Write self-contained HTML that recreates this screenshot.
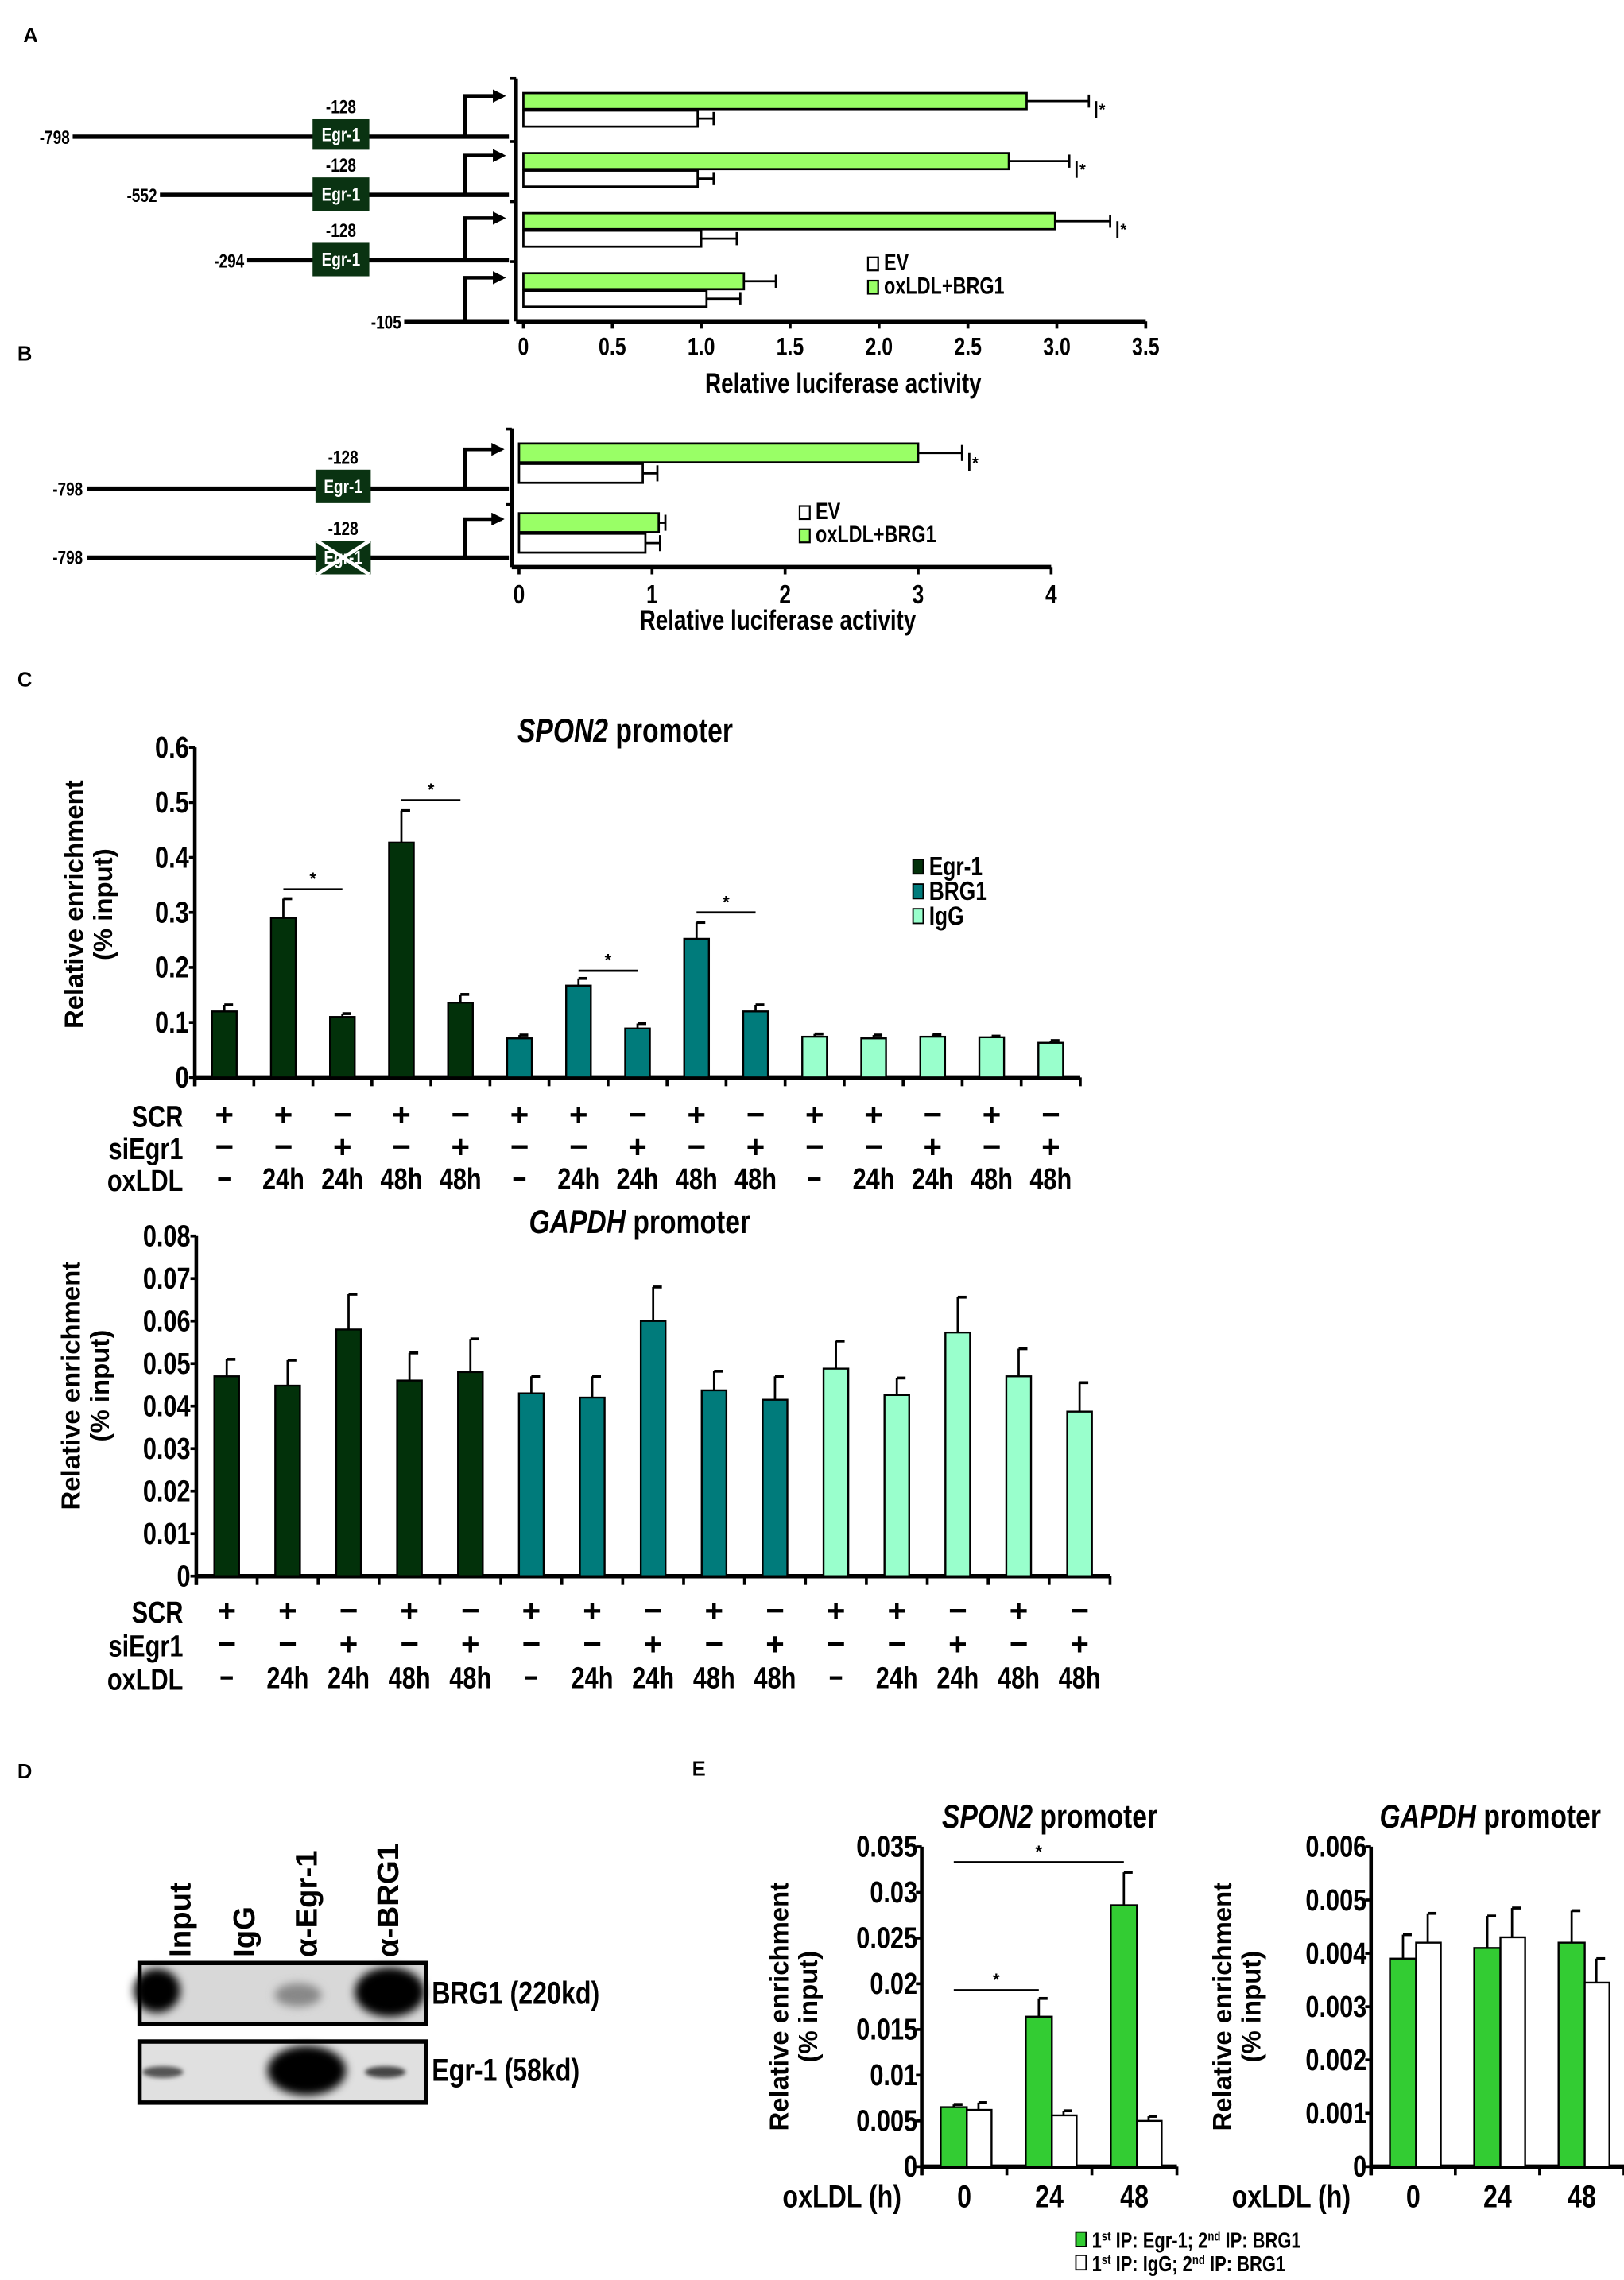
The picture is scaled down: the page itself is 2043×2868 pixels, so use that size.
<!DOCTYPE html>
<html><head><meta charset="utf-8">
<style>
html,body{margin:0;padding:0;background:#fff;}
svg{display:block;}
.n{font-family:"Liberation Sans Narrow","Liberation Sans",sans-serif;font-weight:bold;fill:#000;}
.w{font-family:"Liberation Sans",sans-serif;font-weight:bold;fill:#000;}
</style></head>
<body>
<svg id="fig" xmlns="http://www.w3.org/2000/svg" width="2043" height="2868" viewBox="0 0 1117 1568" preserveAspectRatio="none">
<defs>
<marker id="ah" markerUnits="userSpaceOnUse" markerWidth="9" markerHeight="9" refX="7" refY="4.5" orient="auto"><path d="M0,0 L9,4.5 L0,9 z" fill="#000"/></marker>
<filter id="bl" x="-50%" y="-50%" width="200%" height="200%"><feGaussianBlur stdDeviation="3"/></filter>
<filter id="bl2" x="-50%" y="-50%" width="200%" height="200%"><feGaussianBlur stdDeviation="1.5"/></filter>
</defs>
<g class="w" font-size="14">
<text x="16" y="29">A</text>
<text x="12" y="248">B</text>
<text x="12" y="472">C</text>
<text x="12" y="1223">D</text>
<text x="476" y="1221">E</text>
</g>

<!-- Panel A diagrams -->
<g stroke="#000" fill="none">
<line x1="50" y1="94" x2="350" y2="94" stroke-width="3"/>
<line x1="110" y1="134" x2="350" y2="134" stroke-width="3"/>
<line x1="170" y1="179" x2="350" y2="179" stroke-width="3"/>
<line x1="278" y1="221" x2="350" y2="221" stroke-width="3"/>
<path d="M320,94 V66 H346" stroke-width="2.5" marker-end="url(#ah)"/>
<path d="M320,134 V107 H346" stroke-width="2.5" marker-end="url(#ah)"/>
<path d="M320,179 V150 H346" stroke-width="2.5" marker-end="url(#ah)"/>
<path d="M320,221 V191 H346" stroke-width="2.5" marker-end="url(#ah)"/>
</g>
<g class="n" font-size="13">
<rect x="215" y="82" width="39" height="21" fill="#0a3312"/><text x="234.5" y="97" text-anchor="middle" style="fill:#fff">Egr-1</text>
<rect x="215" y="122" width="39" height="23" fill="#0a3312"/><text x="234.5" y="138" text-anchor="middle" style="fill:#fff">Egr-1</text>
<rect x="215" y="167" width="39" height="23" fill="#0a3312"/><text x="234.5" y="183" text-anchor="middle" style="fill:#fff">Egr-1</text>
<text x="234.5" y="78" text-anchor="middle">-128</text>
<text x="234.5" y="118" text-anchor="middle">-128</text>
<text x="234.5" y="163" text-anchor="middle">-128</text>
<text x="48" y="99" text-anchor="end">-798</text>
<text x="108" y="139" text-anchor="end">-552</text>
<text x="168" y="184" text-anchor="end">-294</text>
<text x="276" y="226" text-anchor="end">-105</text>
</g>

<!-- Panel B diagrams -->
<g stroke="#000" fill="none">
<line x1="60" y1="336" x2="350" y2="336" stroke-width="3"/>
<line x1="60" y1="383.5" x2="350" y2="383.5" stroke-width="3"/>
<path d="M320,336 V309 H345" stroke-width="2.5" marker-end="url(#ah)"/>
<path d="M320,383.5 V357 H345" stroke-width="2.5" marker-end="url(#ah)"/>
</g>
<g class="n" font-size="13">
<rect x="217" y="323" width="38" height="23" fill="#0a3312"/><text x="236" y="339" text-anchor="middle" style="fill:#fff">Egr-1</text>
<rect x="217" y="372" width="38" height="23" fill="#0a3312"/><text x="236" y="388" text-anchor="middle" style="fill:#fff">Egr-1</text>
<line x1="218" y1="372" x2="254" y2="395" stroke="#fff" stroke-width="2.5"/>
<line x1="254" y1="372" x2="218" y2="395" stroke="#fff" stroke-width="2.5"/>
<text x="236" y="319" text-anchor="middle">-128</text>
<text x="236" y="368" text-anchor="middle">-128</text>
<text x="57" y="341" text-anchor="end">-798</text>
<text x="57" y="388" text-anchor="end">-798</text>
</g>

<g id="chartA"></g>
<g id="chartB"></g>
<g id="chartC1"></g>
<g id="chartC2"></g>

<!-- Panel D blot -->
<g>
<g class="w" font-size="21">
<text transform="translate(131,1346) rotate(-90)">Input</text>
<text transform="translate(175,1346) rotate(-90)">IgG</text>
<text transform="translate(218,1346) rotate(-90)">α-Egr-1</text>
<text transform="translate(274,1346) rotate(-90)">α-BRG1</text>
</g>
<rect x="96" y="1350" width="197" height="42" fill="#d8d8d8" stroke="#000" stroke-width="3"/>
<ellipse cx="108" cy="1369" rx="16" ry="15" fill="#000" filter="url(#bl)"/>
<ellipse cx="268" cy="1370" rx="24" ry="17" fill="#000" filter="url(#bl)"/>
<ellipse cx="205" cy="1372" rx="16" ry="8" fill="#888" filter="url(#bl)"/>
<rect x="96" y="1404" width="197" height="42" fill="#e0e0e0" stroke="#000" stroke-width="3"/>
<ellipse cx="112" cy="1425" rx="14" ry="4" fill="#555" filter="url(#bl2)"/>
<ellipse cx="211" cy="1424" rx="27" ry="17" fill="#000" filter="url(#bl)"/>
<ellipse cx="265" cy="1425" rx="14" ry="4" fill="#444" filter="url(#bl2)"/>
<text x="297" y="1378" class="n" font-size="22">BRG1 (220kd)</text>
<text x="297" y="1431" class="n" font-size="22">Egr-1 (58kd)</text>
</g>

<g id="chartE1"></g>
<g id="chartE2"></g>
<g class="n" font-size="15">
<rect x="740" y="1535" width="7" height="10" fill="#33cc33" stroke="#000"/>
<text x="751" y="1546">1<tspan font-size="9" dy="-5">st</tspan><tspan dy="5"> IP: Egr-1; 2</tspan><tspan font-size="9" dy="-5">nd</tspan><tspan dy="5"> IP: BRG1</tspan></text>
<rect x="740" y="1551" width="7" height="10" fill="#fff" stroke="#000"/>
<text x="751" y="1562">1<tspan font-size="9" dy="-5">st</tspan><tspan dy="5"> IP: IgG; 2</tspan><tspan font-size="9" dy="-5">nd</tspan><tspan dy="5"> IP: BRG1</tspan></text>
</g>
</svg>

<script>
// ---- Panel A data ----
const aGreen=[2.83,2.73,2.99,1.24];
const aGreenErr=[0.35,0.34,0.31,0.18];
const aWhite=[0.98,0.98,1.0,1.03];
const aWhiteErr=[0.09,0.09,0.2,0.19];
const aSig=[true,true,true,false];
const aTicks=["0","0.5","1.0","1.5","2.0","2.5","3.0","3.5"];
const aTickVals=[0,0.5,1,1.5,2,2.5,3,3.5];
// ---- Panel B data ----
const bGreen=[3.0,1.05];
const bGreenErr=[0.33,0.05];
const bWhite=[0.93,0.95];
const bWhiteErr=[0.11,0.11];
const bSig=[true,false];
const bTicks=["0","1","2","3","4"];
const bTickVals=[0,1,2,3,4];
// ---- Panel C data ----
const cGroups=["Egr-1","BRG1","IgG"];
const cScr=["+","+","−","+","−","+","+","−","+","−","+","+","−","+","−"];
const cSi=["−","−","+","−","+","−","−","+","−","+","−","−","+","−","+"];
const cOx=["−","24h","24h","48h","48h","−","24h","24h","48h","48h","−","24h","24h","48h","48h"];
const spon2Vals=[0.12,0.29,0.11,0.427,0.136,0.071,0.167,0.089,0.252,0.12,0.074,0.071,0.074,0.073,0.063];
const spon2Err=[0.012,0.035,0.006,0.058,0.015,0.006,0.013,0.009,0.03,0.012,0.005,0.006,0.004,0.002,0.004];
const spon2Ticks=["0","0.1","0.2","0.3","0.4","0.5","0.6"];
const spon2TickVals=[0,0.1,0.2,0.3,0.4,0.5,0.6];
const spon2SigPairs=[[1,2],[3,4],[6,7],[8,9]];
const spon2SigLevels=[0.342,0.504,0.194,0.30];
const gapdhVals=[0.047,0.0448,0.058,0.046,0.048,0.043,0.042,0.060,0.0437,0.0415,0.0488,0.0426,0.0573,0.047,0.0387];
const gapdhErr=[0.004,0.006,0.0083,0.0065,0.0078,0.004,0.005,0.008,0.0045,0.0055,0.0065,0.004,0.0083,0.0065,0.0068];
const gapdhTicks=["0","0.01","0.02","0.03","0.04","0.05","0.06","0.07","0.08"];
const gapdhTickVals=[0,0.01,0.02,0.03,0.04,0.05,0.06,0.07,0.08];
// ---- Panel E data ----
const eCats=["0","24","48"];
const eSpon2Green=[0.0065,0.0164,0.0286];
const eSpon2GreenErr=[0.0003,0.002,0.0036];
const eSpon2White=[0.0062,0.0056,0.005];
const eSpon2WhiteErr=[0.0008,0.0005,0.0005];
const eSpon2Ticks=["0","0.005","0.01","0.015","0.02","0.025","0.03","0.035"];
const eSpon2TickVals=[0,0.005,0.01,0.015,0.02,0.025,0.03,0.035];
const eSpon2SigPairs=[[0,2],[0,1]];
const eSpon2SigLevels=[0.0333,0.0193];
const eGapdhGreen=[0.0039,0.0041,0.0042];
const eGapdhGreenErr=[0.00045,0.0006,0.0006];
const eGapdhWhite=[0.0042,0.0043,0.00345];
const eGapdhWhiteErr=[0.00055,0.00055,0.00045];
const eGapdhTicks=["0","0.001","0.002","0.003","0.004","0.005","0.006"];
const eGapdhTickVals=[0,0.001,0.002,0.003,0.004,0.005,0.006];

const NS="http://www.w3.org/2000/svg";
function mk(parent,tag,attrs,name,txt){
  const el=document.createElementNS(NS,tag);
  for(const k in attrs) el.setAttribute(k,attrs[k]);
  
  
  if(txt!==undefined) el.textContent=txt;
  parent.appendChild(el);
  return el;
}
const NARROW='"Liberation Sans Narrow","Liberation Sans",sans-serif';
const WIDE='"Liberation Sans",sans-serif';
function line(p,x1,y1,x2,y2,w,name){return mk(p,'line',{x1,y1,x2,y2,stroke:'#000','stroke-width':w},name);}
function text(p,x,y,s,size,anchor,name,font){
  const el=mk(p,'text',{x,y,'font-size':size,'text-anchor':anchor||'start','font-family':font||NARROW,'font-weight':'bold',fill:'#000'},name,s);
  if(!font) el.classList.add('narrow');
  return el;
}

// ---------- horizontal bar chart (A, B) ----------
function hChart(g,cfg){
  const xs=v=>cfg.x0+v*cfg.unit;
  line(g,cfg.x0-5,cfg.yTop,cfg.x0-5,cfg.yAxis,2.5,'y-axis');
  line(g,cfg.x0-5,cfg.yAxis,xs(cfg.tickVals[cfg.tickVals.length-1]),cfg.yAxis,3,'x-axis');
  cfg.tickVals.forEach((v,i)=>{
    line(g,xs(v),cfg.yAxis,xs(v),cfg.yAxis+5,2,'x-tick');
    text(g,xs(v),cfg.yAxis+cfg.lblDy,cfg.ticks[i],cfg.tickSize,'middle','x-tick-label');
  });
  text(g,cfg.titleX,cfg.titleY,'Relative luciferase activity',cfg.titleSize,'middle','x-axis-title');
  line(g,cfg.x0-9,cfg.yTop,cfg.x0-5,cfg.yTop,2,'group-tick');
  cfg.green.forEach((v,i)=>{
    const top=cfg.yStart+i*cfg.band;
    if(i>0) line(g,cfg.x0-9,top-cfg.sepOff,cfg.x0-5,top-cfg.sepOff,2,'group-tick');
    const gy=top, wy=top+cfg.bh+1;
    line(g,xs(v),gy+cfg.bh/2,xs(v+cfg.greenErr[i]),gy+cfg.bh/2,1.5,'error-bar');
    line(g,xs(v+cfg.greenErr[i]),gy+1,xs(v+cfg.greenErr[i]),gy+cfg.bh-1,1.5,'error-cap');
    mk(g,'rect',{x:cfg.x0,y:gy,width:xs(v)-cfg.x0,height:cfg.bh,fill:'#99ff66',stroke:'#000','stroke-width':1.5},'bar-oxldl-brg1');
    const wv=cfg.white[i];
    line(g,xs(wv),wy+cfg.bh/2,xs(wv+cfg.whiteErr[i]),wy+cfg.bh/2,1.5,'error-bar');
    line(g,xs(wv+cfg.whiteErr[i]),wy+1,xs(wv+cfg.whiteErr[i]),wy+cfg.bh-1,1.5,'error-cap');
    mk(g,'rect',{x:cfg.x0,y:wy,width:xs(wv)-cfg.x0,height:cfg.bh,fill:'#fff',stroke:'#000','stroke-width':1.5},'bar-ev');
    if(cfg.sig[i]){
      const ex=xs(v+cfg.greenErr[i])+5;
      line(g,ex,gy+cfg.bh/2,ex,gy+cfg.bh+6,1.5,'significance-tick');
      text(g,ex+2,gy+cfg.bh+4,'*',11,'start','significance-star',WIDE);
    }
  });
  const L=cfg.legend;
  mk(g,'rect',{x:L.x,y:L.y-9,width:7,height:9,fill:'#fff',stroke:'#000','stroke-width':1.2},'legend-swatch-ev');
  text(g,L.x+11,L.y,'EV',L.size,'start','legend-label-ev');
  mk(g,'rect',{x:L.x,y:L.y+7,width:7,height:9,fill:'#99ff66',stroke:'#000','stroke-width':1.2},'legend-swatch-oxldl-brg1');
  text(g,L.x+11,L.y+16,'oxLDL+BRG1',L.size,'start','legend-label-oxldl-brg1');
}
hChart(document.getElementById('chartA'),{x0:360,unit:122.3,yTop:54,yAxis:221,yStart:64,band:41.3,bh:11,sepOff:8,
  green:aGreen,greenErr:aGreenErr,white:aWhite,whiteErr:aWhiteErr,sig:aSig,ticks:aTicks,tickVals:aTickVals,
  lblDy:23,tickSize:17,titleX:580,titleY:270,titleSize:19,legend:{x:597,y:186,size:16}});
hChart(document.getElementById('chartB'),{x0:357,unit:91.5,yTop:295,yAxis:390,yStart:305,band:48,bh:13,sepOff:6,
  green:bGreen,greenErr:bGreenErr,white:bWhite,whiteErr:bWhiteErr,sig:bSig,ticks:bTicks,tickVals:bTickVals,
  lblDy:25,tickSize:18,titleX:535,titleY:433,titleSize:19,legend:{x:550,y:357,size:16}});

// ---------- vertical grouped chart (C) ----------
const cColors=['#02310a','#007b7b','#99ffcc'];
function vChart(g,cfg){
  const ys=v=>cfg.y0-v/cfg.max*(cfg.y0-cfg.yTop);
  const cx=i=>cfg.x0+(i+0.5)*cfg.w;
  const n=cfg.vals.length;
  line(g,cfg.x0,cfg.yTop,cfg.x0,cfg.y0+6,2.5,'y-axis');
  line(g,cfg.x0,cfg.y0,cfg.x0+n*cfg.w,cfg.y0,3,'x-axis');
  for(let i=0;i<=n;i++) line(g,cfg.x0+i*cfg.w,cfg.y0,cfg.x0+i*cfg.w,cfg.y0+6,2,'x-tick');
  cfg.tickVals.forEach((v,i)=>{
    line(g,cfg.x0-4,ys(v),cfg.x0,ys(v),2,'y-tick');
    text(g,cfg.x0-4,ys(v)+7,cfg.ticks[i],21,'end','y-tick-label');
  });
  cfg.vals.forEach((v,i)=>{
    const col=cColors[Math.floor(i/5)];
    const x=cx(i);
    line(g,x,ys(v),x,ys(v+cfg.err[i]),1.5,'error-bar');
    line(g,x,ys(v+cfg.err[i]),x+6,ys(v+cfg.err[i]),2,'error-cap');
    mk(g,'rect',{x:x-cfg.bw/2,y:ys(v),width:cfg.bw,height:cfg.y0-ys(v),fill:col,stroke:'#000','stroke-width':1.3},'bar-'+cGroups[Math.floor(i/5)].toLowerCase());
    text(g,x,cfg.rowY[0]+7,cScr[i],22,'middle','scr-sign',WIDE);
    text(g,x,cfg.rowY[1]+7,cSi[i],22,'middle','siegr1-sign',WIDE);
    text(g,x,cfg.rowY[2]+7,cOx[i],21,'middle','oxldl-label');
  });
  text(g,126,cfg.rowY[0]+8,'SCR',21,'end','row-label-scr');
  text(g,126,cfg.rowY[1]+8,'siEgr1',21,'end','row-label-siegr1');
  text(g,126,cfg.rowY[2]+8,'oxLDL',21,'end','row-label-oxldl');
  const t=text(g,cfg.titleX,cfg.titleY,'',23,'middle','chart-title');
  const ts=document.createElementNS(NS,'tspan');ts.setAttribute('font-style','italic');ts.textContent=cfg.gene;t.appendChild(ts);
  t.appendChild(document.createTextNode(' promoter'));
  const yt=text(g,0,0,'Relative enrichment',18,'middle','y-axis-title',WIDE);
  yt.setAttribute('transform','translate('+cfg.ytX+','+cfg.ytY+') rotate(-90)');
  const yt2=text(g,0,0,'(% input)',18,'middle','y-axis-title-unit',WIDE);
  yt2.setAttribute('transform','translate('+(cfg.ytX+20)+','+cfg.ytY+') rotate(-90)');
  if(cfg.sigPairs){
    cfg.sigPairs.forEach((p,k)=>{
      const y=ys(cfg.sigLevels[k]);
      line(g,cx(p[0]),y,cx(p[1]),y,1.5,'significance-line');
      text(g,(cx(p[0])+cx(p[1]))/2,y-3,'*',12,'middle','significance-star',WIDE);
    });
  }
  if(cfg.legend){
    cGroups.forEach((nm,k)=>{
      mk(g,'rect',{x:628,y:591+k*17,width:7,height:10,fill:cColors[k],stroke:'#000','stroke-width':1},'legend-swatch-'+nm.toLowerCase());
      text(g,639,602+k*17,nm,18,'start','legend-label-'+nm.toLowerCase());
    });
  }
}
vChart(document.getElementById('chartC1'),{x0:134,w:40.6,bw:17,y0:741,yTop:514,max:0.6,vals:spon2Vals,err:spon2Err,
  ticks:spon2Ticks,tickVals:spon2TickVals,rowY:[767,789,811],gene:'SPON2',titleX:430,titleY:510,ytX:57,ytY:622,
  sigPairs:spon2SigPairs,sigLevels:spon2SigLevels,legend:true});
vChart(document.getElementById('chartC2'),{x0:135,w:41.9,bw:17,y0:1084,yTop:850,max:0.08,vals:gapdhVals,err:gapdhErr,
  ticks:gapdhTicks,tickVals:gapdhTickVals,rowY:[1108,1131,1154],gene:'GAPDH',titleX:440,titleY:848,ytX:55,ytY:953});

// ---------- panel E ----------
function eChart(g,cfg){
  const ys=v=>cfg.y0-v/cfg.max*(cfg.y0-cfg.yTop);
  line(g,cfg.x0,cfg.yTop,cfg.x0,cfg.y0+6,2.5,'y-axis');
  line(g,cfg.x0,cfg.y0,cfg.x0+3*cfg.w,cfg.y0,3,'x-axis');
  for(let i=0;i<=3;i++) line(g,cfg.x0+i*cfg.w,cfg.y0,cfg.x0+i*cfg.w,cfg.y0+6,2,'x-tick');
  cfg.tickVals.forEach((v,i)=>{
    line(g,cfg.x0-4,ys(v),cfg.x0,ys(v),2,'y-tick');
    text(g,cfg.x0-3,ys(v)+7,cfg.ticks[i],21,'end','y-tick-label');
  });
  eCats.forEach((c,i)=>{
    const gx=cfg.x0+i*cfg.w+13;
    const gv=cfg.green[i], wv=cfg.white[i];
    line(g,gx+9,ys(gv),gx+9,ys(gv+cfg.greenErr[i]),1.5,'error-bar');
    line(g,gx+9,ys(gv+cfg.greenErr[i]),gx+15,ys(gv+cfg.greenErr[i]),2,'error-cap');
    mk(g,'rect',{x:gx,y:ys(gv),width:18,height:cfg.y0-ys(gv),fill:'#33cc33',stroke:'#000','stroke-width':1.3},'bar-egr1-brg1');
    line(g,gx+26,ys(wv),gx+26,ys(wv+cfg.whiteErr[i]),1.5,'error-bar');
    line(g,gx+26,ys(wv+cfg.whiteErr[i]),gx+32,ys(wv+cfg.whiteErr[i]),2,'error-cap');
    mk(g,'rect',{x:gx+18,y:ys(wv),width:17,height:cfg.y0-ys(wv),fill:'#fff',stroke:'#000','stroke-width':1.3},'bar-igg-brg1');
    text(g,cfg.x0+(i+0.5)*cfg.w,1518,c,22,'middle','x-category-label');
  });
  text(g,cfg.x0-14,1518,'oxLDL (h)',22,'end','x-axis-title');
  const t=text(g,cfg.titleX,1257,'',23,'middle','chart-title');
  const ts=document.createElementNS(NS,'tspan');ts.setAttribute('font-style','italic');ts.textContent=cfg.gene;t.appendChild(ts);
  t.appendChild(document.createTextNode(' promoter'));
  const yt=text(g,0,0,'Relative enrichment',18,'middle','y-axis-title',WIDE);
  yt.setAttribute('transform','translate('+cfg.ytX+',1380) rotate(-90)');
  const yt2=text(g,0,0,'(% input)',18,'middle','y-axis-title-unit',WIDE);
  yt2.setAttribute('transform','translate('+(cfg.ytX+20)+',1380) rotate(-90)');
  if(cfg.sigPairs){
    cfg.sigPairs.forEach((p,k)=>{
      const y=ys(cfg.sigLevels[k]);
      const xa=cfg.x0+p[0]*cfg.w+22, xb=cfg.x0+p[1]*cfg.w+22;
      line(g,xa,y,xb,y,1.5,'significance-line');
      text(g,(xa+xb)/2,y-3,'*',12,'middle','significance-star',WIDE);
    });
  }
}
eChart(document.getElementById('chartE1'),{x0:634,w:58.5,y0:1490,yTop:1270,max:0.035,green:eSpon2Green,greenErr:eSpon2GreenErr,
  white:eSpon2White,whiteErr:eSpon2WhiteErr,ticks:eSpon2Ticks,tickVals:eSpon2TickVals,gene:'SPON2',titleX:722,ytX:542,
  sigPairs:eSpon2SigPairs,sigLevels:eSpon2SigLevels});
eChart(document.getElementById('chartE2'),{x0:943,w:58,y0:1490,yTop:1270,max:0.006,green:eGapdhGreen,greenErr:eGapdhGreenErr,
  white:eGapdhWhite,whiteErr:eGapdhWhiteErr,ticks:eGapdhTicks,tickVals:eGapdhTickVals,gene:'GAPDH',titleX:1025,ytX:847});

// condense narrow-styled text horizontally (no condensed font installed)
document.querySelectorAll('text.narrow, .n text, text.n').forEach(el=>{
  if(el.getAttribute('transform')) return;
  const x=parseFloat(el.getAttribute('x')||0), y=parseFloat(el.getAttribute('y')||0);
  el.setAttribute('transform','translate('+x+','+y+') scale(0.8,1) translate('+(-x)+','+(-y)+')');
});
</script>
</body></html>
